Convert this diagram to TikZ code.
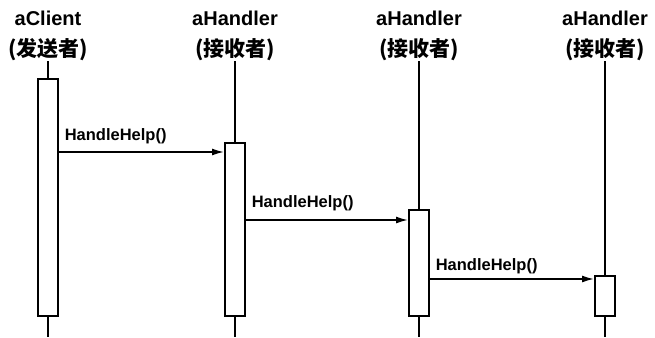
\documentclass[tikz,border=0pt]{standalone}
\usepackage{fontspec}
\setmainfont{Liberation Sans}
\newfontfamily\cjk{Noto Sans CJK SC}
\usetikzlibrary{arrows.meta}

\begin{document}
\begin{tikzpicture}[x=1pt, y=-1pt, >={Latex[length=12pt,width=7pt]},
    head/.style={align=center, inner sep=0pt, anchor=north,
                 font=\fontsize{20}{31}\selectfont\bfseries},
    life/.style={line width=1.7pt},
    act/.style={draw, line width=2pt, fill=white, minimum width=20pt,
                inner sep=0pt, anchor=north},
    msg/.style={->, line width=1.6pt},
    call/.style={font=\fontsize{16.5}{17}\selectfont\bfseries,
                 anchor=south west, inner sep=0pt}]

    \useasboundingbox (0,0) rectangle (655,337);

    % ==========================================================
    % cabeceras y lineas de vida
    % ==========================================================
    \foreach \n/\x/\name/\role in {c0/48/aClient/发送者, h1/235/aHandler/接收者,
                                   h2/419/aHandler/接收者, h3/605/aHandler/接收者} {
        \node[head] (\n) at (\x,11) {\name\\{\cjk\fontsize{21}{31}\selectfont (\role)}};
        \coordinate (\n-end) at (\x,337);
        \draw[life] (\n.south) -- (\n-end);
    }

    % ==========================================================
    % activaciones
    % ==========================================================
    \node[act, minimum height=237pt] (a0) at (48,78) {};
    \node[act, minimum height=173pt] (a1) at (235,142) {};
    \node[act, minimum height=106pt] (a2) at (419,209) {};
    \node[act, minimum height=40pt]  (a3) at (605,275) {};

    % mensajes HandleHelp() en cadena
    \coordinate (m1) at (0,152);
    \coordinate (m2) at (0,220);
    \coordinate (m3) at (0,279);
    \foreach \a/\b/\m/\dy in {a0/a1/m1/7, a1/a2/m2/8, a2/a3/m3/4} {
        \draw[msg] (\a.east |- \m) -- (\b.west |- \m)
            node[call, pos=0, xshift=5pt, yshift=\dy pt] {HandleHelp()};
    }

\end{tikzpicture}
\end{document}
